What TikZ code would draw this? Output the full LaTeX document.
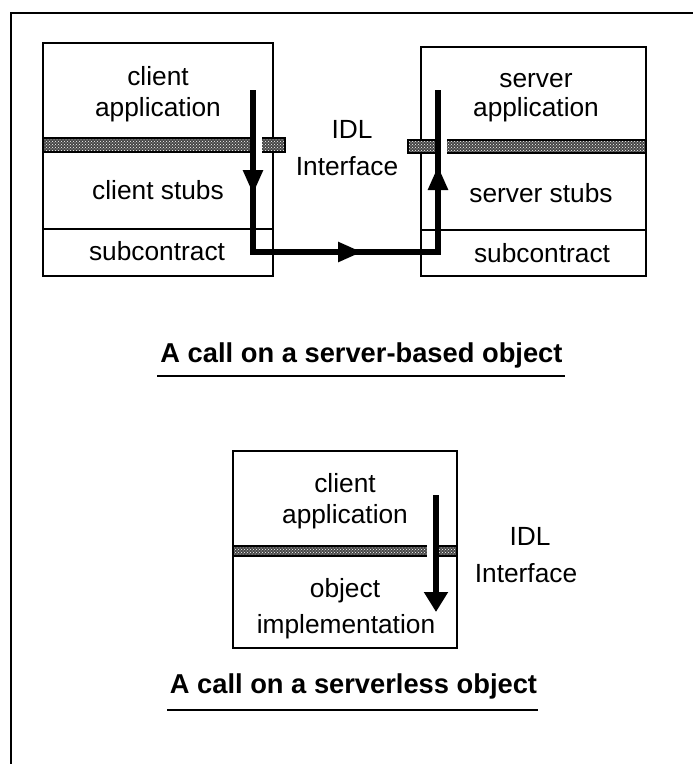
\documentclass[tikz,border=0pt]{standalone}
\usepackage{fontspec}
\setmainfont{Liberation Sans}
\usetikzlibrary{arrows.meta,patterns}
\begin{document}
\begin{tikzpicture}[x=1pt,y=-1pt,
  layer/.style={draw=black, line width=1.4pt},
  lbl/.style={anchor=base, inner sep=0pt, font=\fontsize{26.3}{31}\selectfont},
  title/.style={anchor=base, inner sep=0pt, font=\bfseries\fontsize{27.3}{32}\selectfont},
  band/.style={draw=black, line width=1.2pt, preaction={fill=black!72},
               pattern=crosshatch dots, pattern color=white},
  flow/.style={line width=5.5pt, line join=miter},
  halo/.style={white, line width=9pt},
  head/.style={-{Triangle[length=24pt,width=19pt]}, line width=5.5pt},
  rule/.style={line width=2.6pt}]
\useasboundingbox (0,0) rectangle (693,764);

% page frame: top and left rules
\draw[line width=2pt] (693,13) -- (11,13) -- (11,764);

% ---- client stack ----
\draw[layer] (43,43) rectangle (273,276);
\draw[layer] (43,229) -- (273,229);
\draw[band] (43,138) rectangle (285,152);
\node[lbl] (capp1) at (158,85) {client};
\node[lbl] (capp2) at (158,116) {application};
\node[lbl] (cstub) at (158,199) {client stubs};
\node[lbl] (csub)  at (157,260) {subcontract};

% ---- server stack ----
\draw[layer] (421,47) rectangle (646,276);
\draw[layer] (421,230) -- (646,230);
\draw[band] (408,140) rectangle (646,153);
\node[lbl] (sapp1) at (536,87) {server};
\node[lbl] (sapp2) at (536,116) {application};
\node[lbl] (sstub) at (541,202) {server stubs};
\node[lbl] (ssub)  at (542,262) {subcontract};

\node[lbl] (idl1) at (352,138) {IDL};
\node[lbl] (itf1) at (347,175) {Interface};

% ---- call path ----
\coordinate (c0) at (253,90);
\coordinate (c1) at (253,252);
\coordinate (s1) at (438,252);
\coordinate (s0) at (438,90);
% small clear gaps where the path crosses the interface bands
\coordinate (cb0) at (257,136.5);
\coordinate (cb1) at (257,153.5);
\coordinate (sb0) at (442,138.5);
\coordinate (sb1) at (442,154.5);
\draw[halo] (cb0) -- (cb1);
\draw[halo] (sb0) -- (sb1);
\draw[flow] (c0) -- (c1) -- (s1) -- (s0);
\coordinate (ha0) at (253,162);
\coordinate (ha1) at (253,194);
\coordinate (hb0) at (330,252);
\coordinate (hb1) at (362,252);
\coordinate (hc0) at (438,198);
\coordinate (hc1) at (438,166);
\draw[head] (ha0) -- (ha1);
\draw[head] (hb0) -- (hb1);
\draw[head] (hc0) -- (hc1);

% ---- caption 1 ----
\node[title] (t1) at (361.5,362) {A call on a server-based object};
\draw[rule] (157,376) -- (565,376);

% ---- serverless stack ----
\draw[layer] (233,451) rectangle (457,648);
\draw[band] (233,546) rectangle (457,556);
\node[lbl] (bapp1) at (345,492) {client};
\node[lbl] (bapp2) at (345,523) {application};
\node[lbl] (obj1)  at (345,597) {object};
\node[lbl] (obj2)  at (346,633) {implementation};
\node[lbl] (idl2) at (530,545) {IDL};
\node[lbl] (itf2) at (526,582) {Interface};

\coordinate (d0) at (436,495);
\coordinate (db0) at (431,544.5);
\coordinate (db1) at (431,557.5);
\coordinate (d1) at (436,612);
\draw[halo] (db0) -- (db1);
\draw[line width=5.5pt, -{Triangle[length=20pt,width=23pt]}] (d0) -- (d1);

% ---- caption 2 ----
\node[title] (t2) at (353.5,693) {A call on a serverless object};
\draw[rule] (167,710) -- (538,710);
\end{tikzpicture}
\end{document}
